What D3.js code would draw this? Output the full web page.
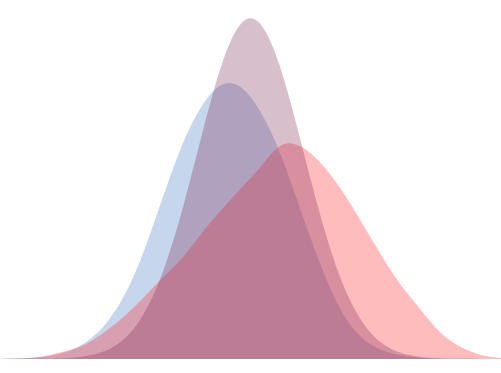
<!DOCTYPE html>
<html>
<head>
<meta charset="utf-8">
<script src="https://cdn.jsdelivr.net/npm/d3@7"></script>
<style>
  body { margin: 0; background: #fff; }
  svg { display: block; }
</style>
</head>
<body>
<svg id="canvas" width="501" height="373"></svg>
<script>
// sample positions along the x axis
let xs=[0,20,40,60,80,100,120,140,160,180,200,220,240,260,280,300,320,340,360,380,400,420,440,460,480,500]

// density heights (mauve peak = 100)
let blue=[0.05,0.19,0.57,1.6,3.9,8.5,16.5,28.9,45.3,61.4,73.5,80.2,79.8,72.5,60.0,43.7,27.6,14.5,6.5,2.8,1.1,0.4,0.15,0.05,0.01,0]
let red=[0,0.2,0.6,1.9,3.6,7.0,11.5,17.0,23.2,29.0,36.4,43.4,49.9,56.3,62.6,62.3,57.5,49.9,40.5,30.7,21.7,14.4,7.6,3.5,1.2,0.3]
let mauve=[0,0.01,0.04,0.16,0.58,1.8,4.9,11.6,23.6,41.8,64.1,85.2,98.2,98.2,85.2,64.1,41.8,23.6,11.6,4.9,1.8,0.58,0.16,0.04,0.01,0]

let series=[
  {name:"blue",values:blue,color:"#4176c0"},
  {name:"red",values:red,color:"#ff2026"},
  {name:"mauve",values:mauve,color:"#7d2a55"}
]

const canvas=d3.select("#canvas")

const x=d3.scaleLinear().domain([0,500]).range([0,501])
const y=d3.scaleLinear().domain([0,100]).range([359,18])

const area=d3.area()
  .x((d,i)=>x(xs[i]))
  .y0(y(0))
  .y1(d=>y(d))
  .curve(d3.curveNatural)

canvas.selectAll("path")
  .data(series)
  .enter()
  .append("path")
  .attr("d",s=>area(s.values))
  .attr("fill",s=>s.color)
  .attr("fill-opacity",0.3)
</script>
</body>
</html>
